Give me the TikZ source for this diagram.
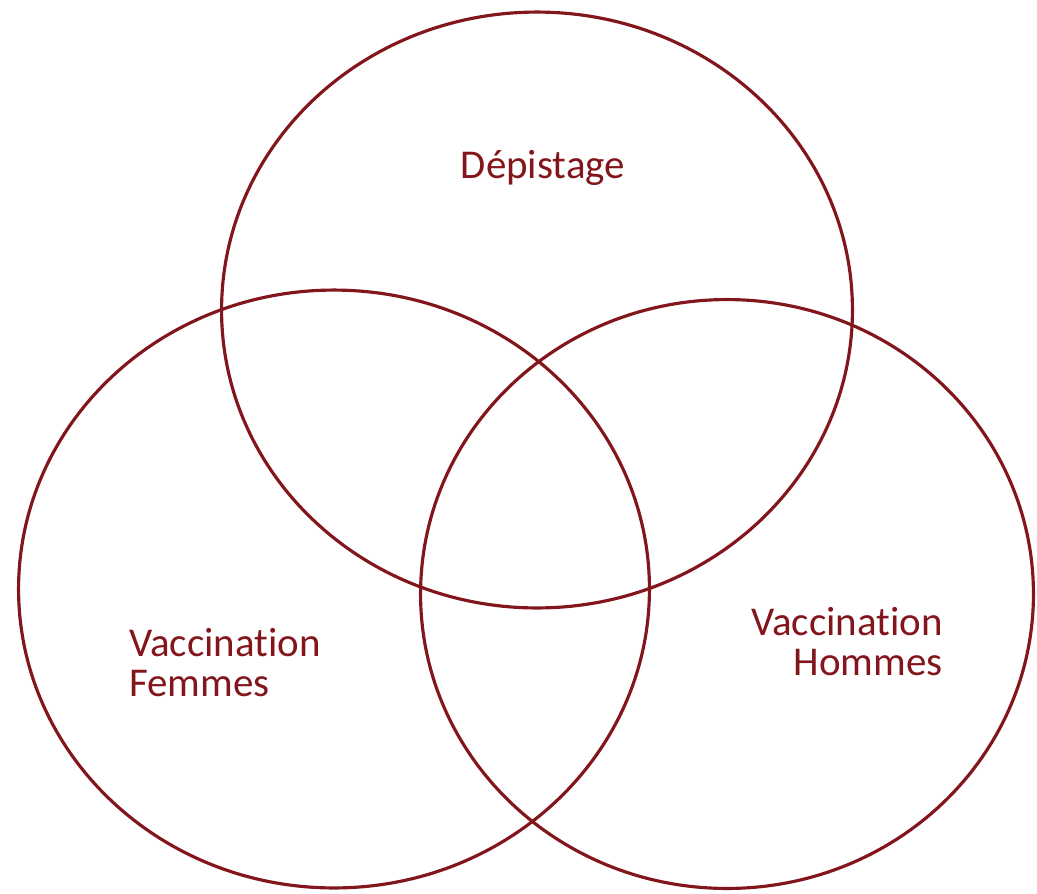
\documentclass[tikz,border=0pt]{standalone}
\usepackage{fontspec}
\setmainfont{Carlito}[Ligatures=NoCommon]
\usetikzlibrary{shapes.geometric}
\definecolor{venn}{RGB}{130,22,28}
\tikzset{
  set/.style={draw=venn, ellipse, line width=1.8pt, inner sep=0pt},
  lbl/.style={text=venn, inner sep=0pt, font=\fontsize{23.3}{22.8}\selectfont}
}
\begin{document}
\begin{tikzpicture}[x=0.02cm, y=-0.02cm]
\useasboundingbox (0,0) rectangle (1037,893);
\node[set, minimum width=12.62cm, minimum height=11.92cm] (depistage) at (537,310) {};
\node[set, minimum width=12.62cm, minimum height=11.96cm] (femmes) at (334,589) {};
\node[set, minimum width=12.26cm, minimum height=11.78cm] (hommes) at (727,594) {};
\node[lbl, anchor=base] (tdep) at (543,178) {Dépistage};
\node[lbl, align=left, anchor=north west] (tfem) at (129,628) {Vaccination\\Femmes};
\node[lbl, align=right, anchor=north east] (thom) at (943,607) {Vaccination\\Hommes};
\end{tikzpicture}
\end{document}
